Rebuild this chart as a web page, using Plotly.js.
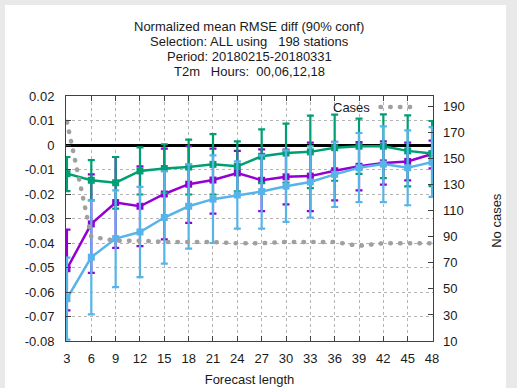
<!DOCTYPE html>
<html>
<head>
<meta charset="utf-8">
<script src="https://cdn.plot.ly/plotly-3.0.1.min.js"></script>
<style>
html, body { margin: 0; padding: 0; background: #e9e9e9; width: 517px; height: 388px; overflow: hidden; }
#chart { position: absolute; left: 5px; top: 5px; width: 501px; height: 383px; }
.scatterlayer .js-line, .shapelayer path { stroke-linecap: round; }
</style>
</head>
<body>
<div id="chart"></div>
<script>
// Forecast lengths (hours)
const fcLength = [3, 6, 9, 12, 15, 18, 21, 24, 27, 30, 33, 36, 39, 42, 45, 48];

// Purple series: mean, upper and lower 90% confidence bounds
const purpleMean  = [-0.0505, -0.0322, -0.0235, -0.0250, -0.0200, -0.0160, -0.0143, -0.0114, -0.0144, -0.0130, -0.0127, -0.0105, -0.0087, -0.0073, -0.0067, -0.0037];
const purpleUpper = [-0.0345, -0.0120, -0.0049, -0.0087, -0.0015, -0.0005, -0.0015, -0.0024, -0.0018, -0.0019,  0.0010,  0.0013,  0.0012,  0.0015,  0.0010,  0.0018];
const purpleLower = [-0.0675, -0.0522, -0.0420, -0.0413, -0.0385, -0.0318, -0.0280, -0.0204, -0.0270, -0.0242, -0.0270, -0.0226, -0.0185, -0.0162, -0.0144, -0.0095];

// Green series
const greenMean  = [-0.0117, -0.0144, -0.0154, -0.0106, -0.0096, -0.0090, -0.0079, -0.0087, -0.0046, -0.0033, -0.0028, -0.0011, -0.0005, -0.0005, -0.0024, -0.0035];
const greenUpper = [-0.0049, -0.0062, -0.0049, -0.0010,  0.0003,  0.0022,  0.0044,  0.0015,  0.0064,  0.0087,  0.0120,  0.0124,  0.0108,  0.0125,  0.0121,  0.0098];
const greenLower = [-0.0188, -0.0226, -0.0260, -0.0202, -0.0195, -0.0202, -0.0202, -0.0189, -0.0156, -0.0153, -0.0176, -0.0146, -0.0118, -0.0135, -0.0169, -0.0168];

// Light blue series
const blueMean  = [-0.0627, -0.0458, -0.0382, -0.0355, -0.0296, -0.0250, -0.0221, -0.0204, -0.0190, -0.0168, -0.0151, -0.0120, -0.0093, -0.0078, -0.0093, -0.0070];
const blueUpper = [-0.0460, -0.0226, -0.0185, -0.0171, -0.0108, -0.0079, -0.0042, -0.0067, -0.0042, -0.0022, -0.0006,  0.0012,  0.0049,  0.0076,  0.0060,  0.0073];
const blueLower = [-0.0794, -0.0691, -0.0580, -0.0539, -0.0484, -0.0423, -0.0400, -0.0341, -0.0341, -0.0314, -0.0296, -0.0253, -0.0233, -0.0233, -0.0246, -0.0212];

// Number of cases
const cases = [178, 90, 87, 87, 86, 86, 86, 85, 85, 86, 86, 86, 83, 85, 85, 85];

// Tick labels
const yTickVals  = [-0.08, -0.07, -0.06, -0.05, -0.04, -0.03, -0.02, -0.01, 0, 0.01, 0.02];
const yTickText  = ["-0.08", "-0.07", "-0.06", "-0.05", "-0.04", "-0.03", "-0.02", "-0.01", "0", "0.01", "0.02"];
const y2TickVals = [10, 30, 50, 70, 90, 110, 130, 150, 170, 190];

const titleLines = ["Normalized mean RMSE diff (90% conf)", "Selection: ALL using   198 stations", "Period: 20180215-20180331", "T2m   Hours:  00,06,12,18"];

const FONT = "Liberation Sans, Arial, sans-serif";
const TXT = "#1a1a1a";
const FS = 13;

function errTrace(mean, upper, lower, color) {
  return {
    x: fcLength, y: mean, type: "scatter", mode: "lines+markers",
    line: { color: color, width: 2.5 },
    marker: { color: color, symbol: "square", size: 7 },
    error_y: {
      type: "data", symmetric: false,
      array: upper.map((u, i) => u - mean[i]),
      arrayminus: mean.map((m, i) => m - lower[i]),
      color: color, thickness: 2.2, width: 3.5
    },
    showlegend: false, hoverinfo: "skip"
  };
}

const traces = [
  {
    x: fcLength, y: cases, yaxis: "y2", type: "scatter", mode: "lines",
    line: { color: "#a0a0a0", width: 4.5, dash: "0.5px,9.2px" },
    showlegend: false, hoverinfo: "skip"
  },
  errTrace(purpleMean, purpleUpper, purpleLower, "#9400d3"),
  errTrace(greenMean, greenUpper, greenLower, "#009e73"),
  errTrace(blueMean, blueUpper, blueLower, "#56b4e9")
];

// Title lines are placed one by one (paper y) to match the reference line spacing
const titleY = [1.2853, 1.2216, 1.1604, 1.0992];
const titleAnnotations = titleLines.map((t, i) => ({
  text: t, xref: "paper", yref: "paper", x: 0.499, y: titleY[i],
  xanchor: "center", yanchor: "middle", showarrow: false,
  font: { family: FONT, size: FS, color: TXT }
}));

const layout = {
  width: 501, height: 383,
  paper_bgcolor: "#ffffff", plot_bgcolor: "#ffffff",
  margin: { l: 61, r: 73, t: 91, b: 47 },
  font: { family: FONT, size: FS, color: TXT },
  showlegend: false,
  xaxis: {
    range: [2.88, 48.12],
    tickvals: fcLength, ticktext: fcLength.map(String),
    ticks: "inside", ticklen: 5, tickcolor: "#404040",
    showline: true, linecolor: "#404040", linewidth: 1, mirror: "ticks",
    showgrid: true, gridcolor: "#b4b4b4", griddash: "dot", gridwidth: 1,
    zeroline: false, ticklabelstandoff: 5,
    tickfont: { family: FONT, size: FS, color: TXT },
    title: { text: "Forecast length", font: { family: FONT, size: FS, color: TXT }, standoff: 10 }
  },
  yaxis: {
    range: [-0.08, 0.02],
    tickvals: yTickVals, ticktext: yTickText,
    ticks: "inside", ticklen: 5, tickcolor: "#404040",
    showline: true, linecolor: "#404040", linewidth: 1, mirror: true,
    showgrid: true, gridcolor: "#b4b4b4", griddash: "dot", gridwidth: 1,
    zeroline: true, zerolinecolor: "#000000", zerolinewidth: 3,
    ticklabelstandoff: 8,
    tickfont: { family: FONT, size: FS, color: TXT }
  },
  yaxis2: {
    range: [10, 198], overlaying: "y", side: "right",
    tickvals: y2TickVals, ticktext: y2TickVals.map(String),
    ticks: "inside", ticklen: 5, tickcolor: "#404040",
    showgrid: false, zeroline: false, showline: false,
    ticklabelstandoff: 9,
    tickfont: { family: FONT, size: FS, color: TXT }
  },
  annotations: titleAnnotations.concat([
    { text: "No cases", textangle: -90, xref: "paper", yref: "paper", x: 1.174, y: 0.494,
      xanchor: "center", yanchor: "middle", showarrow: false, font: { family: FONT, size: FS, color: TXT } },
    { text: "Cases", xref: "paper", yref: "paper", x: 0.835, y: 0.955,
      xanchor: "right", yanchor: "middle", showarrow: false, font: { family: FONT, size: FS, color: TXT } }
  ]),
  shapes: [
    { type: "line", xref: "paper", yref: "paper", x0: 0.857, x1: 0.94, y0: 0.955, y1: 0.955,
      line: { color: "#a0a0a0", width: 4.5, dash: "0.5px,9.2px" } }
  ]
};

Plotly.newPlot("chart", traces, layout, { staticPlot: true, displayModeBar: false });
</script>
</body>
</html>
